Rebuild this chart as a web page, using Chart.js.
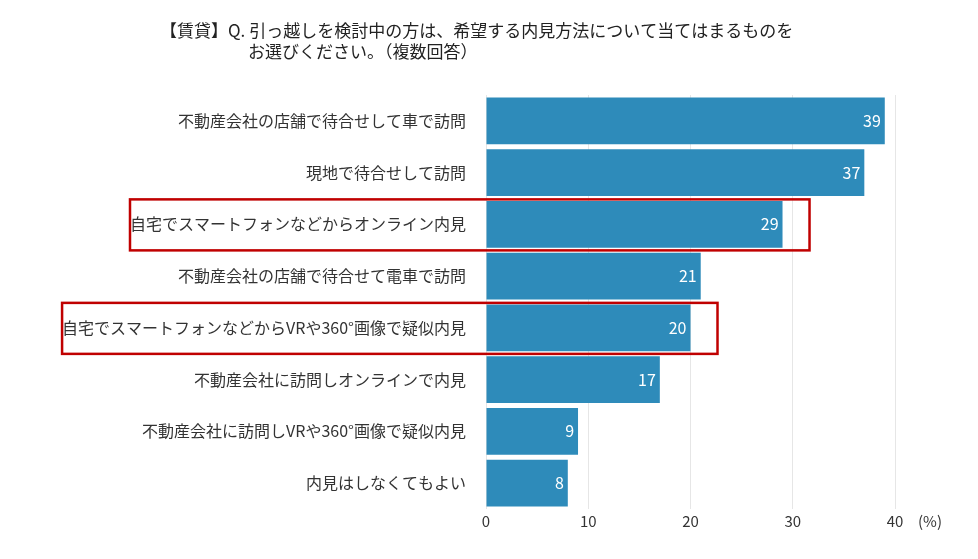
<!DOCTYPE html>
<html><head><meta charset="utf-8">
<script src="https://cdn.jsdelivr.net/npm/chart.js@4"></script>
<style>body{margin:0;background:#fff}#wrap{width:978px;height:559px;position:relative}</style>
</head><body><div id="wrap"><canvas id="c"></canvas></div>
<script>
const categories = ['不動産会社の店舗で待合せして車で訪問','現地で待合せして訪問','自宅でスマートフォンなどからオンライン内見','不動産会社の店舗で待合せて電車で訪問','自宅でスマートフォンなどからVRや360°画像で疑似内見','不動産会社に訪問しオンラインで内見','不動産会社に訪問しVRや360°画像で疑似内見','内見はしなくてもよい']
const values = [39,37,29,21,20,17,9,8]
const highlighted = [2,4]
const titleLines = ['【賃貸】Q. 引っ越しを検討中の方は、希望する内見方法について当てはまるものを','お選びください。（複数回答）']
const font = '"Noto Sans CJK JP", "Noto Sans", sans-serif'

const extras = {
  id:'extras',
  afterDraw(chart){
    const ctx = chart.ctx, x = chart.scales.x, y = chart.scales.y
    ctx.save()
    ctx.fillStyle = '#222'; ctx.font = '17px ' + font; ctx.textBaseline = 'middle'
    ctx.fillText(titleLines[0], 160, 31)
    ctx.fillText(titleLines[1], 248, 52)
    ctx.font = '15px ' + font; ctx.fillStyle = '#333'
    ctx.fillText('(%)', 918, 521)
    // data labels
    chart.getDatasetMeta(0).data.forEach((bar, i) => {
      ctx.fillStyle = '#fff'; ctx.font = '16px ' + font; ctx.textAlign = 'right'
      ctx.fillText(values[i], bar.x - 4, bar.y)
    })
    // red boxes
    ctx.strokeStyle = '#c00000'; ctx.lineWidth = 2.5
    ctx.font = '16px ' + font
    highlighted.forEach(i => {
      const w = ctx.measureText(categories[i]).width
      const bar = chart.getDatasetMeta(0).data[i]
      const left = y.right - 10 - w - 10
      const right = x.getPixelForValue(values[i]) + 27
      ctx.strokeRect(left, bar.y - 25, right - left, 51)
    })
    ctx.restore()
  }
}

new Chart(document.getElementById('c'), {
  type:'bar',
  data:{labels:categories, datasets:[{data:values, backgroundColor:'#2e8bba', barPercentage:0.9, categoryPercentage:1}]},
  options:{
    indexAxis:'y', responsive:true, maintainAspectRatio:false, animation:false,
    layout:{padding:{top:95, right:83, bottom:26, left:10}},
    plugins:{legend:{display:false}, tooltip:{enabled:false}},
    scales:{
      x:{min:0, max:40, ticks:{stepSize:10, color:'#333', font:{size:15, family:font}}, grid:{color:'#e6e6e6', drawTicks:false}, border:{display:false}},
      y:{ticks:{color:'#333', font:{size:16, family:font}, padding:12}, grid:{display:false}, border:{display:false}, afterFit(s){s.width = 476}}
    }
  },
  plugins:[extras]
})
</script></body></html>
